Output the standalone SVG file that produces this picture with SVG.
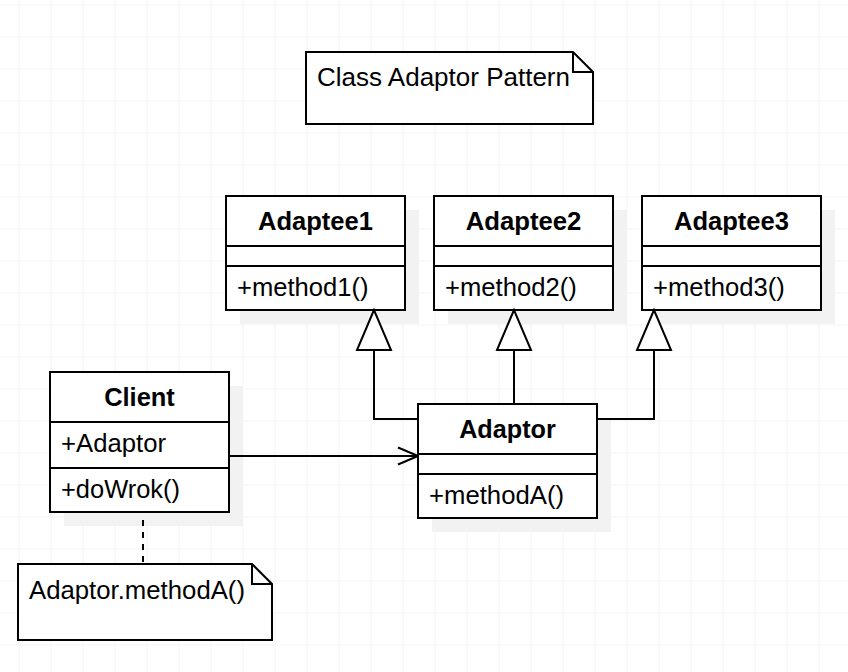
<svg xmlns="http://www.w3.org/2000/svg" width="848" height="672" viewBox="0 0 848 672">
  <defs>
    <pattern id="grid" x="18.5" y="4.5" width="32" height="32" patternUnits="userSpaceOnUse">
      <path d="M0 0H32M0 0V32" fill="none" stroke="#ebebeb" stroke-width="1"/>
    </pattern>
    <marker id="open" viewBox="0 0 22 20" refX="21" refY="10" markerWidth="22" markerHeight="20" markerUnits="userSpaceOnUse" orient="auto">
      <path d="M1 1.5L21 10L1 18.5" fill="none" stroke="#000" stroke-width="2"/>
    </marker>
  </defs>
  <style>
    .box { fill: #fff; stroke: #000; stroke-width: 2; }
    .shadow { fill: #f2f2f2; }
    .sep { stroke: #000; stroke-width: 2; }
    .line { fill: none; stroke: #000; stroke-width: 2; }
    .tri { fill: #fff; stroke: #000; stroke-width: 2; stroke-linejoin: miter; }
    .title { font-family: "Liberation Sans", Arial, sans-serif; font-size: 25px; font-weight: bold; text-anchor: middle; fill: #000; }
    .member { font-family: "Liberation Sans", Arial, sans-serif; font-size: 25px; fill: #000; }
  </style>

  <rect width="848" height="672" fill="#fff"/>
  <rect width="848" height="672" fill="url(#grid)"/>

  <!-- notes -->
  <g id="note-title">
    <path class="box" d="M306 52H573L593 72V124H306Z"/>
    <path class="line" d="M573 52V72H593"/>
    <text class="member" x="317" y="86" textLength="253" lengthAdjust="spacingAndGlyphs">Class Adaptor Pattern</text>
  </g>

  <g id="note-client">
    <path class="box" d="M18 564H252L272 584V640H18Z"/>
    <path class="line" d="M252 564V584H272"/>
    <text class="member" x="29" y="599" textLength="216" lengthAdjust="spacingAndGlyphs">Adaptor.methodA()</text>
  </g>

  <!-- classes -->
  <g id="adaptee1">
    <rect class="shadow" x="240" y="210" width="179" height="114"/>
    <rect class="box" x="226" y="196" width="179" height="114"/>
    <path class="sep" d="M226 246H405M226 266H405"/>
    <text class="title" x="315.5" y="230" textLength="115" lengthAdjust="spacingAndGlyphs">Adaptee1</text>
    <text class="member" x="237" y="296" textLength="131.6" lengthAdjust="spacingAndGlyphs">+method1()</text>
  </g>

  <g id="adaptee2">
    <rect class="shadow" x="448" y="210" width="179" height="114"/>
    <rect class="box" x="434" y="196" width="179" height="114"/>
    <path class="sep" d="M434 246H613M434 266H613"/>
    <text class="title" x="523.5" y="230" textLength="115.7" lengthAdjust="spacingAndGlyphs">Adaptee2</text>
    <text class="member" x="445" y="296" textLength="131.7" lengthAdjust="spacingAndGlyphs">+method2()</text>
  </g>

  <g id="adaptee3">
    <rect class="shadow" x="656" y="210" width="179" height="114"/>
    <rect class="box" x="642" y="196" width="179" height="114"/>
    <path class="sep" d="M642 246H821M642 266H821"/>
    <text class="title" x="731.5" y="230" textLength="115" lengthAdjust="spacingAndGlyphs">Adaptee3</text>
    <text class="member" x="653" y="296" textLength="131.7" lengthAdjust="spacingAndGlyphs">+method3()</text>
  </g>

  <g id="client">
    <rect class="shadow" x="64" y="386" width="179" height="140"/>
    <rect class="box" x="50" y="372" width="179" height="140"/>
    <path class="sep" d="M50 422H229M50 468H229"/>
    <text class="title" x="139.5" y="406" textLength="70.7" lengthAdjust="spacingAndGlyphs">Client</text>
    <text class="member" x="61" y="452" textLength="105" lengthAdjust="spacingAndGlyphs">+Adaptor</text>
    <text class="member" x="61" y="498" textLength="119" lengthAdjust="spacingAndGlyphs">+doWrok()</text>
  </g>

  <g id="adaptor">
    <rect class="shadow" x="432" y="418" width="179" height="114"/>
    <rect class="box" x="418" y="404" width="179" height="114"/>
    <path class="sep" d="M418 454H597M418 474H597"/>
    <text class="title" x="507.5" y="438" textLength="96.7" lengthAdjust="spacingAndGlyphs">Adaptor</text>
    <text class="member" x="429" y="504" textLength="135" lengthAdjust="spacingAndGlyphs">+methodA()</text>
  </g>

  <!-- connectors -->
  <g id="connectors">
    <path class="line" d="M418 419H374V350"/>
    <path class="line" d="M514 404V350"/>
    <path class="line" d="M597 419H654V350"/>
    <path class="tri" d="M374 310L357 350H391Z"/>
    <path class="tri" d="M514 310L497 350H531Z"/>
    <path class="tri" d="M654 310L637 350H671Z"/>
    <path class="line" d="M229 456H418" marker-end="url(#open)"/>
    <path class="line" d="M143 520V562" stroke-width="1.6" stroke-dasharray="6 6"/>
  </g>
</svg>
